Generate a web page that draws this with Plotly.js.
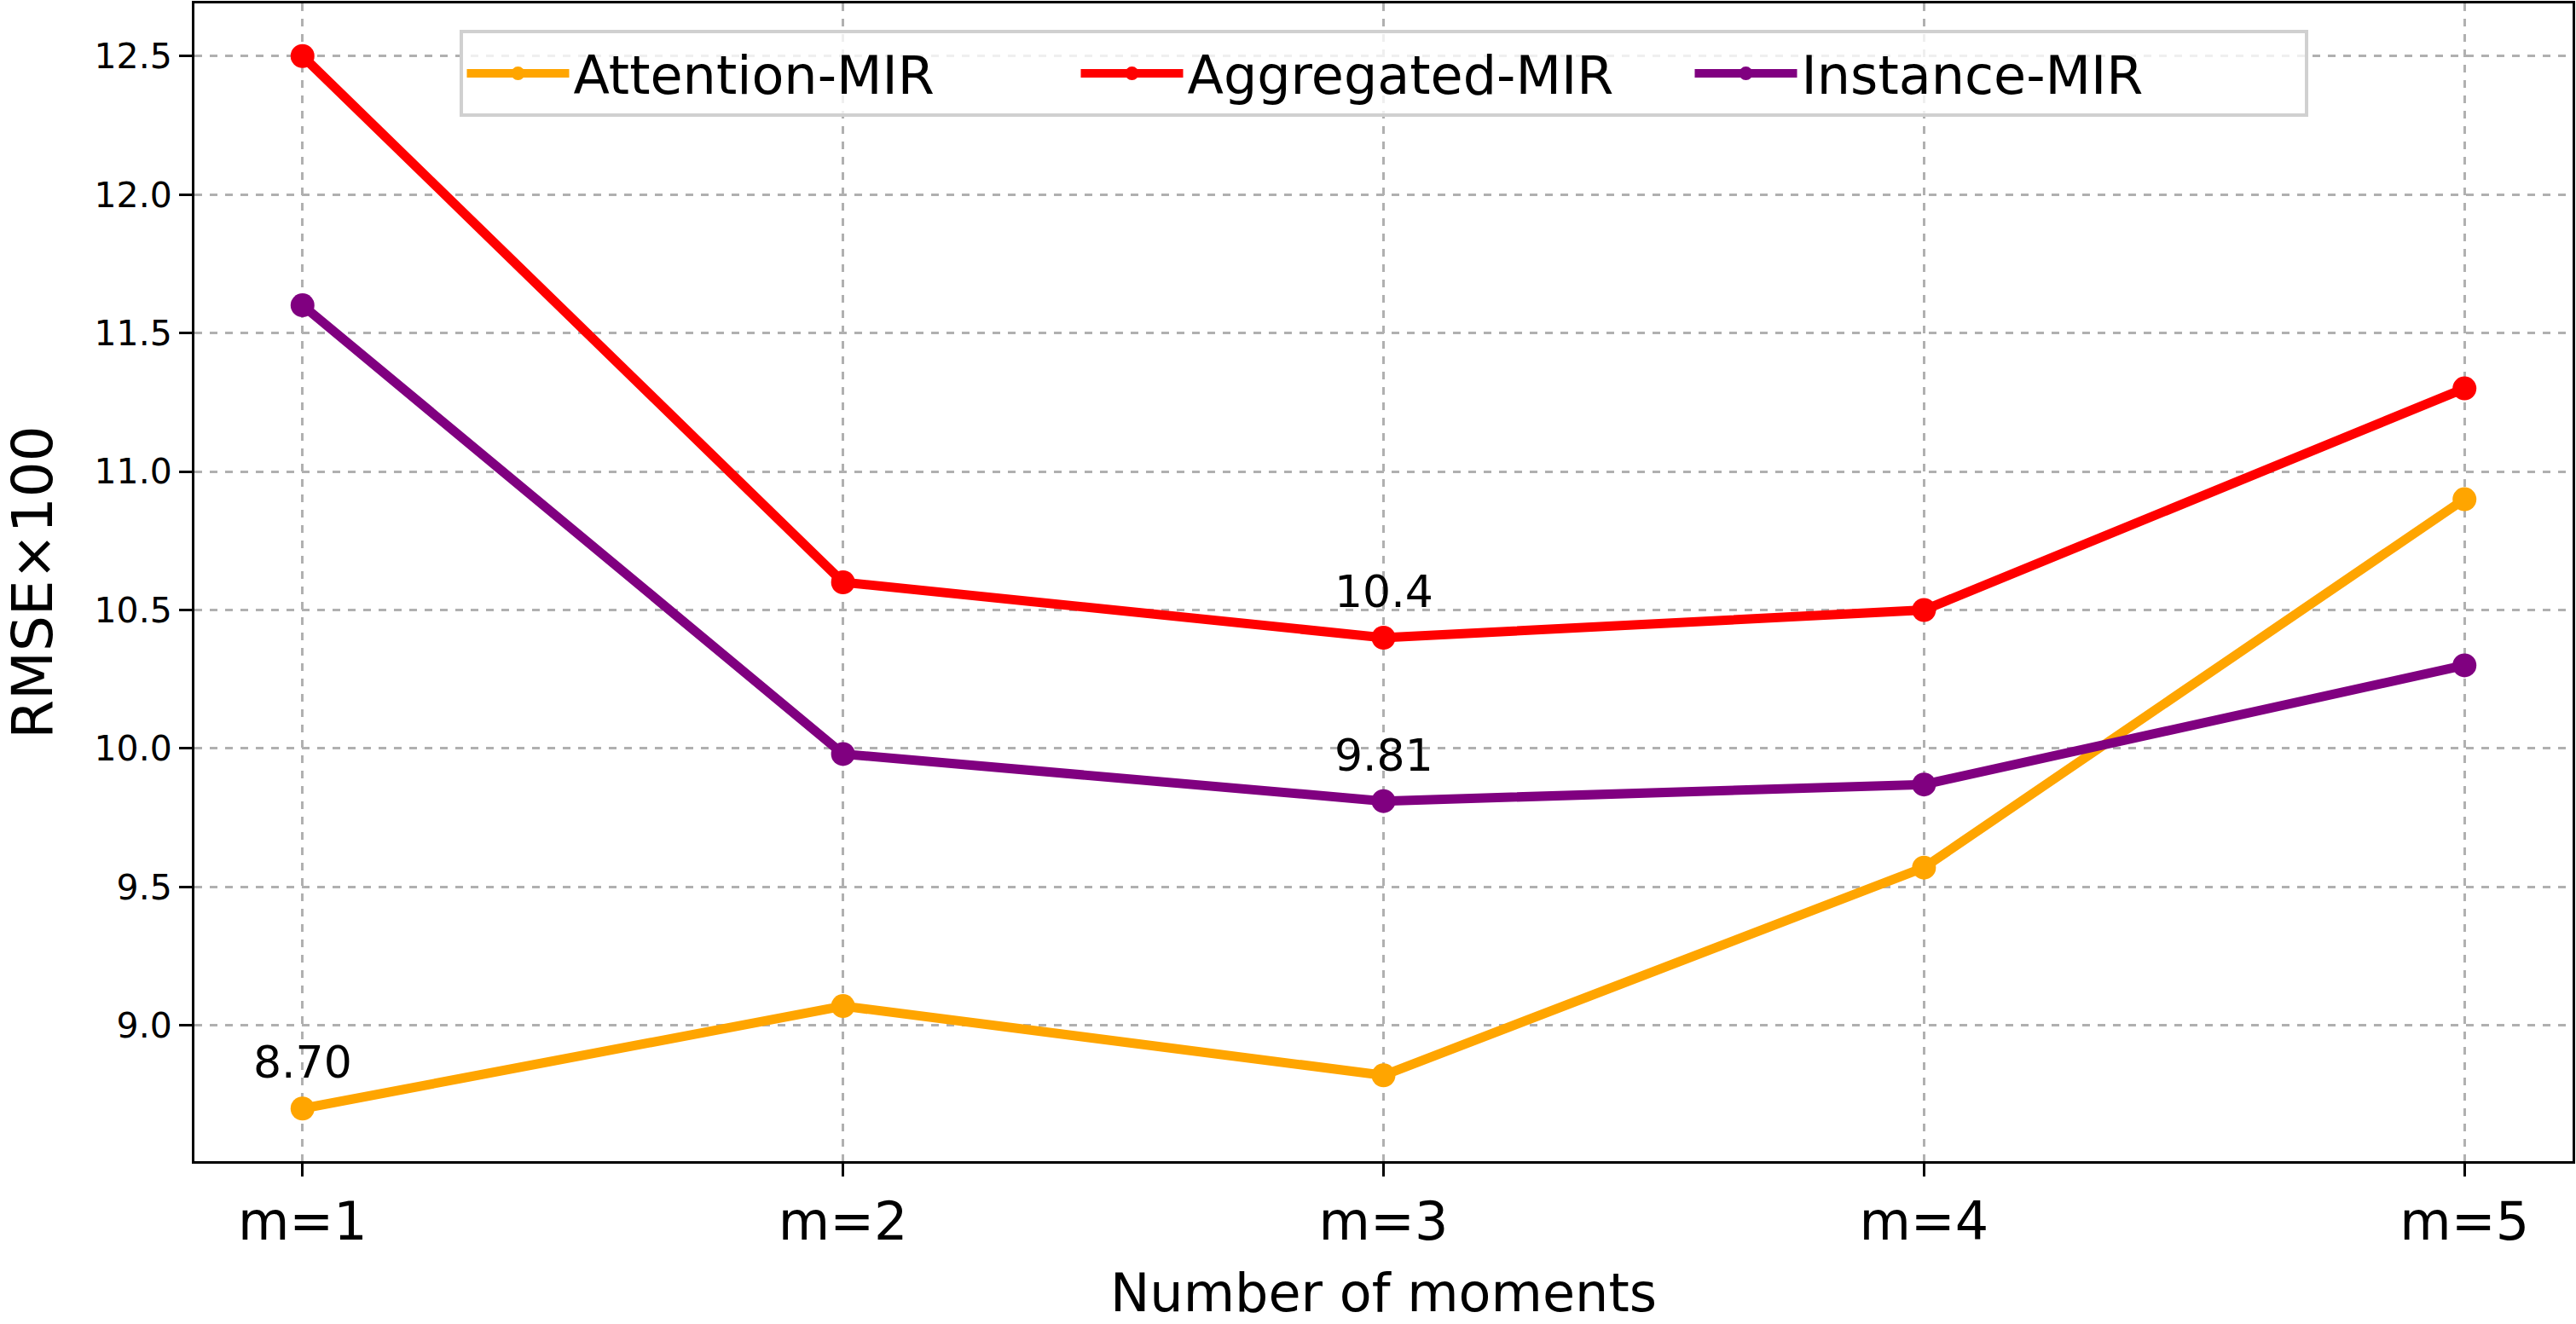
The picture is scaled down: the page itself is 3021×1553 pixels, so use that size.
<!DOCTYPE html>
<html>
<head>
<meta charset="utf-8">
<script src="https://cdn.plot.ly/plotly-3.0.1.min.js"></script>
<style>
  html, body { margin: 0; padding: 0; background: #fff; }
  #chart { width: 3021px; height: 1553px; }
</style>
</head>
<body>
<div id="chart"></div>
<script>
var moments = ['m=1', 'm=2', 'm=3', 'm=4', 'm=5'];
var attentionMIR = [8.70, 9.07, 8.82, 9.57, 10.90];
var aggregatedMIR = [12.5, 10.6, 10.4, 10.5, 11.3];
var instanceMIR = [11.6, 9.98, 9.81, 9.87, 10.3];

// labelled points: [series, index, text]
var labels = [
    [attentionMIR, 0, '8.70'],
    [aggregatedMIR, 2, '10.4'],
    [instanceMIR, 2, '9.81']
];

var CHART = document.getElementById('chart');
var FONT = 'DejaVu Sans, sans-serif';

function series(name, y, color) {
    return {
        x: moments,
        y: y,
        mode: 'lines+markers',
        name: name,
        line: { color: color, width: 11 },
        marker: { color: color, size: 28 }
    };
}

var data = [
    series('Attention-MIR', attentionMIR, '#FFA500'),
    series('Aggregated-MIR', aggregatedMIR, '#FF0000'),
    series('Instance-MIR', instanceMIR, '#800080')
];

var annotations = labels.map(function (l) {
    return {
        x: moments[l[1]],
        y: l[0][l[1]],
        text: l[2],
        showarrow: false,
        xanchor: 'center',
        yanchor: 'bottom',
        yshift: 22,
        font: { family: FONT, size: 52, color: '#000' }
    };
});

var layout = {
    width: 3021,
    height: 1553,
    margin: { l: 228, r: 4, t: 4, b: 191 },
    paper_bgcolor: '#fff',
    plot_bgcolor: '#fff',
    font: { family: FONT, color: '#000' },
    showlegend: true,
    legend: {
        orientation: 'h',
        x: 0.5,
        xanchor: 'center',
        y: 0.977,
        yanchor: 'top',
        bgcolor: 'rgba(255,255,255,0.8)',
        bordercolor: '#d0d0d0',
        borderwidth: 4,
        font: { family: FONT, size: 62 },
        itemwidth: 120,
        entrywidth: 585,
        entrywidthmode: 'pixels'
    },
    xaxis: {
        type: 'category',
        range: [-0.2, 4.2],
        showgrid: true,
        gridcolor: '#b0b0b0',
        gridwidth: 3,
        griddash: 'dash',
        zeroline: false,
        showline: true,
        linecolor: '#000',
        linewidth: 3,
        mirror: true,
        ticks: 'outside',
        ticklen: 15,
        tickwidth: 3,
        tickcolor: '#000',
        tickfont: { family: FONT, size: 62 },
        title: {
            text: 'Number of moments',
            font: { family: FONT, size: 62 },
            standoff: 30
        }
    },
    yaxis: {
        range: [8.51, 12.69],
        dtick: 0.5,
        tick0: 9,
        tickformat: '.1f',
        showgrid: true,
        gridcolor: '#b0b0b0',
        gridwidth: 3,
        griddash: 'dash',
        zeroline: false,
        showline: true,
        linecolor: '#000',
        linewidth: 3,
        mirror: true,
        ticks: 'outside',
        ticklen: 15,
        tickwidth: 3,
        tickcolor: '#000',
        tickfont: { family: FONT, size: 41 },
        title: {
            text: 'RMSE×100',
            font: { family: FONT, size: 66 },
            standoff: 40
        }
    },
    annotations: annotations
};

Plotly.newPlot(CHART, data, layout, { displayModeBar: false, responsive: false });
</script>
</body>
</html>
